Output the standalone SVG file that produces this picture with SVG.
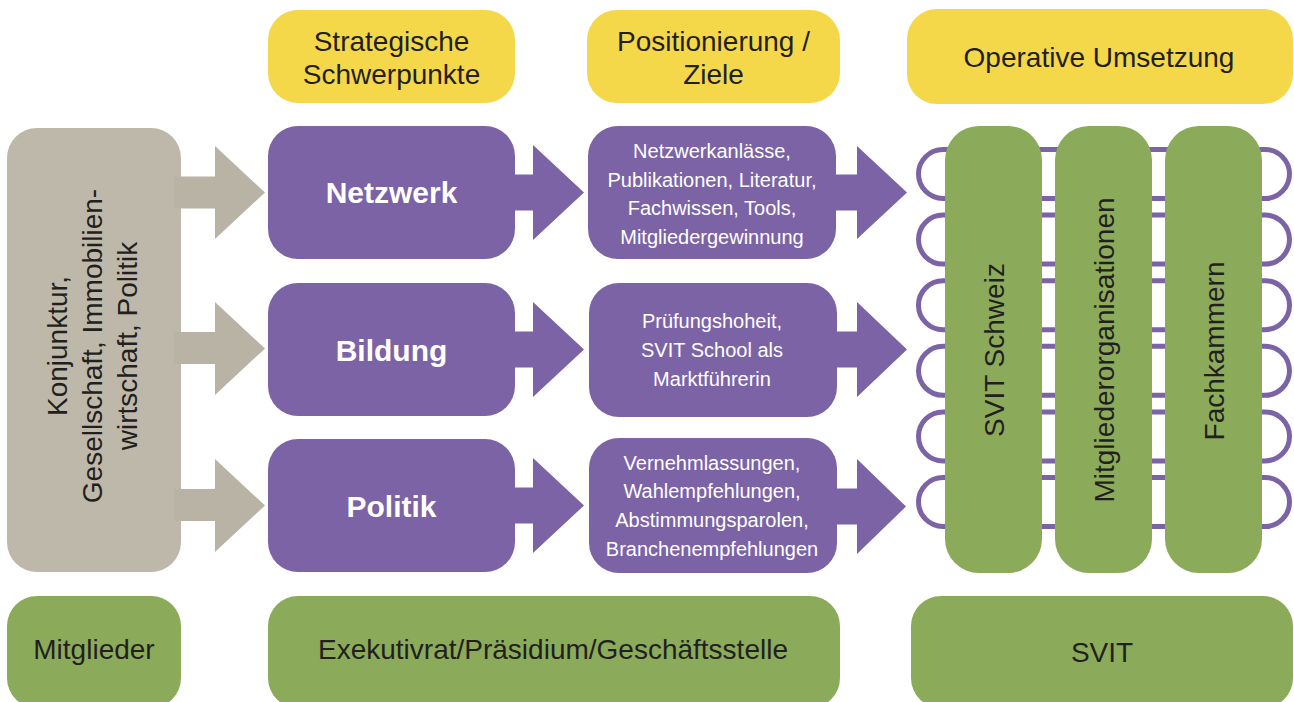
<svg xmlns="http://www.w3.org/2000/svg" width="1294" height="702" viewBox="0 0 1294 702">
<style>
text{font-family:"Liberation Sans",Arial,Helvetica,sans-serif;text-anchor:middle}
.yel{fill:#F4D84A}
.pur{fill:#7B63A6}
.grn{fill:#8BAB5A}
.gry{fill:#BEB8AA}
.garr{fill:#B9B3A5}
.dk{fill:#231F20;font-size:28px}
.wb{fill:#FFFFFF;font-size:30px;font-weight:bold}
.ws{fill:#FFFFFF;font-size:20px}
.loop{fill:none;stroke:#7B63A6;stroke-width:5}
</style>
<rect width="1294" height="702" fill="#FFFFFF"/>

<!-- header -->
<g id="hdr-strategisch">
<rect class="yel" x="268" y="10" width="247" height="93" rx="30"/>
<text class="dk" x="391.5" y="51">Strategische</text>
<text class="dk" x="391.5" y="84">Schwerpunkte</text>
</g>
<g id="hdr-positionierung">
<rect class="yel" x="587" y="10" width="253" height="93" rx="30"/>
<text class="dk" x="713.5" y="51">Positionierung /</text>
<text class="dk" x="713.5" y="84">Ziele</text>
</g>
<g id="hdr-operativ">
<rect class="yel" x="907" y="9" width="386" height="95" rx="30"/>
<text class="dk" x="1099" y="67">Operative Umsetzung</text>
</g>

<!-- loops behind green columns -->
<g id="loops">
<rect class="loop" x="918.5" y="149.5" width="371" height="49" rx="24.5"/>
<rect class="loop" x="918.5" y="215.1" width="371" height="49" rx="24.5"/>
<rect class="loop" x="918.5" y="280.7" width="371" height="49" rx="24.5"/>
<rect class="loop" x="918.5" y="346.3" width="371" height="49" rx="24.5"/>
<rect class="loop" x="918.5" y="411.9" width="371" height="49" rx="24.5"/>
<rect class="loop" x="918.5" y="477.5" width="371" height="49" rx="24.5"/>
</g>

<!-- left grey -->
<g id="umfeld">
<rect class="gry" x="7" y="128" width="174" height="444" rx="30"/>
<g transform="translate(94,346) rotate(-90)">
<text class="dk" x="0" y="-27">Konjunktur,</text>
<text class="dk" x="0" y="8">Gesellschaft, Immobilien-</text>
<text class="dk" x="0" y="43">wirtschaft, Politik</text>
</g>
</g>

<!-- connectors -->
<g id="connectors">
<polygon class="garr" points="174,176.5 215,176.5 215,146 265,192.5 215,239 215,208.5 174,208.5"/>
<polygon class="garr" points="174,332 215,332 215,302 265,348.5 215,395 215,364 174,364"/>
<polygon class="garr" points="174,489 215,489 215,459 265,505.5 215,552 215,521 174,521"/>

<polygon class="pur" points="510,174.5 533,174.5 533,145 584,192.5 533,240 533,210.5 510,210.5"/>
<polygon class="pur" points="510,331.5 533,331.5 533,302 584,349.5 533,397 533,367.5 510,367.5"/>
<polygon class="pur" points="510,487.5 533,487.5 533,458 584,505.5 533,553 533,523.5 510,523.5"/>

<polygon class="pur" points="830,174.5 857,174.5 857,146 907,192.5 857,239 857,210.5 830,210.5"/>
<polygon class="pur" points="830,331.5 857,331.5 857,302 907,349.5 857,397 857,367.5 830,367.5"/>
<polygon class="pur" points="830,488.5 857,488.5 857,459 906,506.5 857,554 857,524.5 830,524.5"/>
</g>

<!-- strategic boxes -->
<g id="netzwerk">
<rect class="pur" x="268" y="126" width="247" height="133" rx="30"/>
<text class="wb" x="391.5" y="203">Netzwerk</text>
</g>
<g id="bildung">
<rect class="pur" x="268" y="283" width="247" height="133" rx="30"/>
<text class="wb" x="391.5" y="361">Bildung</text>
</g>
<g id="politik">
<rect class="pur" x="268" y="439" width="247" height="133" rx="30"/>
<text class="wb" x="391.5" y="517">Politik</text>
</g>

<!-- goals boxes -->
<g id="ziel-netzwerk">
<rect class="pur" x="588" y="126" width="248" height="133" rx="30"/>
<text class="ws" x="712" y="158">Netzwerkanlässe,</text>
<text class="ws" x="712" y="187">Publikationen, Literatur,</text>
<text class="ws" x="712" y="215">Fachwissen, Tools,</text>
<text class="ws" x="712" y="244">Mitgliedergewinnung</text>
</g>
<g id="ziel-bildung">
<rect class="pur" x="589" y="283" width="248" height="134" rx="30"/>
<text class="ws" x="712" y="328">Prüfungshoheit,</text>
<text class="ws" x="712" y="357">SVIT School als</text>
<text class="ws" x="712" y="386">Marktführerin</text>
</g>
<g id="ziel-politik">
<rect class="pur" x="589" y="438" width="248" height="135" rx="30"/>
<text class="ws" x="712" y="470">Vernehmlassungen,</text>
<text class="ws" x="712" y="498">Wahlempfehlungen,</text>
<text class="ws" x="712" y="527">Abstimmungsparolen,</text>
<text class="ws" x="712" y="556">Branchenempfehlungen</text>
</g>

<!-- green columns -->
<g id="svit-schweiz">
<rect class="grn" x="945" y="126" width="97" height="447" rx="34"/>
<text class="dk" transform="translate(1003.5,350) rotate(-90)" x="0" y="0">SVIT Schweiz</text>
</g>
<g id="mitgliederorganisationen">
<rect class="grn" x="1055" y="126" width="97" height="447" rx="34"/>
<text class="dk" transform="translate(1113.5,350) rotate(-90)" x="0" y="0">Mitgliederorganisationen</text>
</g>
<g id="fachkammern">
<rect class="grn" x="1165" y="126" width="97" height="447" rx="34"/>
<text class="dk" transform="translate(1223.5,351) rotate(-90)" x="0" y="0">Fachkammern</text>
</g>

<!-- bottom -->
<g id="mitglieder">
<rect class="grn" x="7" y="596" width="174" height="112" rx="30"/>
<text class="dk" x="94" y="659">Mitglieder</text>
</g>
<g id="exekutivrat">
<rect class="grn" x="268" y="596" width="572" height="112" rx="30"/>
<text class="dk" x="553" y="659">Exekutivrat/Präsidium/Geschäftsstelle</text>
</g>
<g id="svit">
<rect class="grn" x="911" y="596" width="382" height="112" rx="30"/>
<text class="dk" x="1102" y="662">SVIT</text>
</g>
</svg>
